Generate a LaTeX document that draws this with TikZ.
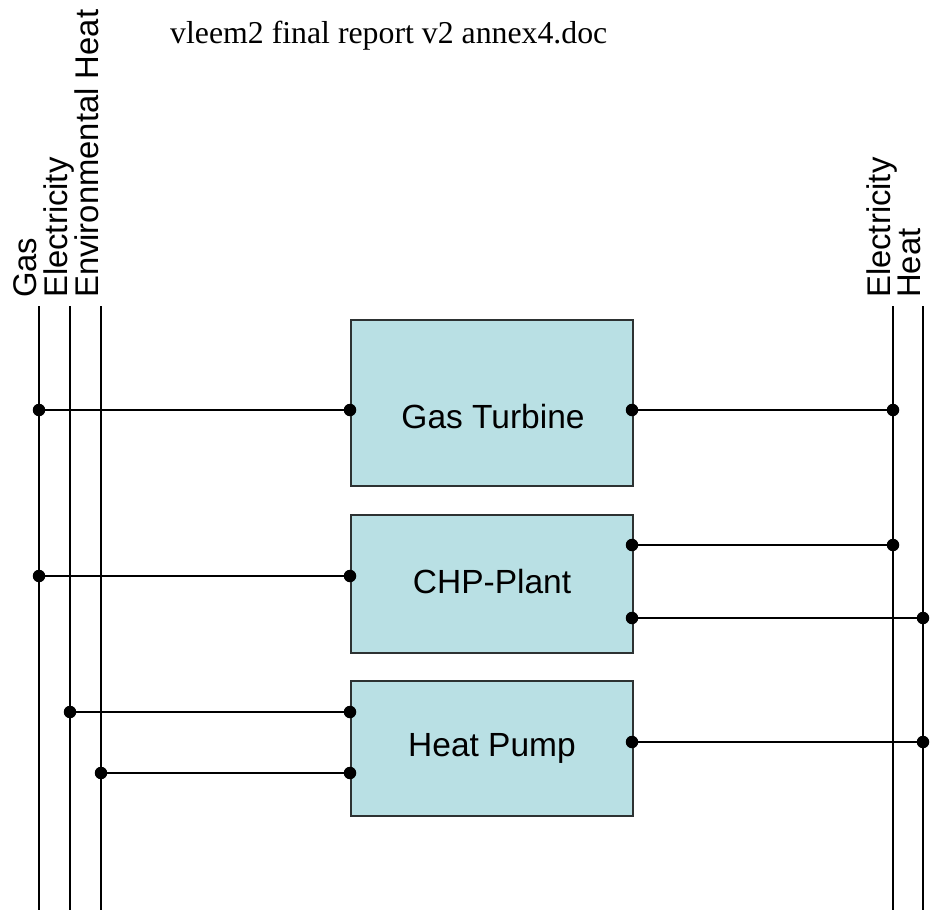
\documentclass[tikz,border=0pt]{standalone}
\usepackage{fontspec}
\setmainfont{Liberation Serif}
\setsansfont{Liberation Sans}
\definecolor{boxfill}{RGB}{185,224,228}
\definecolor{boxline}{RGB}{45,50,50}
\begin{document}
\begin{tikzpicture}[x=1pt,y=-1pt,
  bus/.style={line width=1.9pt,black},
  conn/.style={line width=2.8pt,black},
  dot/.style={circle,fill=black,inner sep=0pt,minimum size=12.5pt},
  busname/.style={rotate=90,anchor=base west,inner sep=0pt,font=\sffamily\fontsize{32.8}{38}\selectfont},
  procbox/.style={draw=boxline,line width=1.8pt,fill=boxfill,anchor=north west,inner sep=0pt},
  proctext/.style={inner sep=0pt,font=\sffamily\fontsize{33.5}{40}\selectfont}]
\useasboundingbox (0,0) rectangle (949,910);
% title
\node[anchor=base west,inner sep=0pt,font=\fontsize{31.8}{38}\selectfont] (title) at (170,43) {vleem2 final report v2 annex4.doc};
% buses
\coordinate (gasT) at (39,306);   \coordinate (gasB) at (39,910);
\coordinate (elaT) at (70,306);   \coordinate (elaB) at (70,910);
\coordinate (envT) at (101,306);  \coordinate (envB) at (101,910);
\coordinate (elbT) at (893,306);  \coordinate (elbB) at (893,910);
\coordinate (htT) at (923,306);   \coordinate (htB) at (923,910);
\draw[bus] (gasT) -- (gasB);
\draw[bus] (elaT) -- (elaB);
\draw[bus] (envT) -- (envB);
\draw[bus] (elbT) -- (elbB);
\draw[bus] (htT) -- (htB);
\node[busname] (lgas) at (36,298) {Gas};
\node[busname] (lela) at (67,298) {Electricity};
\node[busname] (lenv) at (98,298) {Environmental Heat};
\node[busname] (lelb) at (890,298) {Electricity};
\node[busname] (lht) at (920,298) {Heat};
% boxes
\node[procbox,minimum width=282pt,minimum height=166pt] (gt) at (350,319) {};
\node[procbox,minimum width=282pt,minimum height=138pt] (chp) at (350,514) {};
\node[procbox,minimum width=282pt,minimum height=135pt] (hp) at (350,680) {};
\node[proctext] (tgt) at (493,417) {Gas Turbine};
\node[proctext] (tchp) at (492,582) {CHP-Plant};
\node[proctext] (thp) at (492,748) {Heat Pump};
% connection points
\coordinate (gtI) at (350,410);  \coordinate (gtO) at (632,410);
\coordinate (chpI) at (350,576); \coordinate (chpO1) at (632,545); \coordinate (chpO2) at (632,618);
\coordinate (hpI1) at (350,712); \coordinate (hpI2) at (350,773); \coordinate (hpO) at (632,742);
% connectors
\draw[conn] (gasT |- gtI) node[dot]{} -- (gtI) node[dot]{};
\draw[conn] (gtO) node[dot]{} -- (elbT |- gtO) node[dot]{};
\draw[conn] (gasT |- chpI) node[dot]{} -- (chpI) node[dot]{};
\draw[conn] (chpO1) node[dot]{} -- (elbT |- chpO1) node[dot]{};
\draw[conn] (chpO2) node[dot]{} -- (htT |- chpO2) node[dot]{};
\draw[conn] (elaT |- hpI1) node[dot]{} -- (hpI1) node[dot]{};
\draw[conn] (envT |- hpI2) node[dot]{} -- (hpI2) node[dot]{};
\draw[conn] (hpO) node[dot]{} -- (htT |- hpO) node[dot]{};
\end{tikzpicture}
\end{document}
